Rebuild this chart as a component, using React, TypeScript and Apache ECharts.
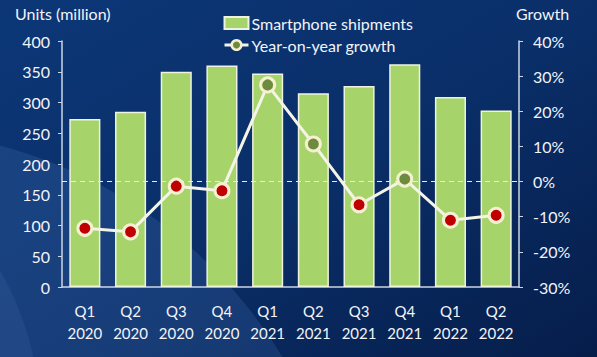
import React, { useEffect, useRef } from "react";
import * as echarts from "echarts";

const categories = ["Q1\n2020", "Q2\n2020", "Q3\n2020", "Q4\n2020", "Q1\n2021", "Q2\n2021", "Q3\n2021", "Q4\n2021", "Q1\n2022", "Q2\n2022"];
const shipments = [273, 285, 350, 360, 347, 315, 327, 362, 309, 287];
const growth = [-13.3, -14.3, -1.3, -2.6, 27.5, 10.7, -6.6, 0.7, -11.0, -9.6];
const leftTicks = { min: 0, max: 400, interval: 50 };
const rightTicks = { min: -30, max: 40, interval: 10 };

const FONT = "Lato, 'Open Sans', sans-serif";
const TXT = "#f2f4f8";

export default function App() {
  const ref = useRef<HTMLDivElement>(null);
  useEffect(() => {
    const chart = echarts.init(ref.current!, null, { renderer: "svg" });
    chart.setOption({
      animation: false,
      backgroundColor: new echarts.graphic.LinearGradient(0, 0, 1, 1, [
        { offset: 0, color: "#0c3777" },
        { offset: 0.5, color: "#0a2f69" },
        { offset: 1, color: "#061d4a" },
      ]),
      graphic: [
        {
          type: "circle",
          silent: true,
          z: -10,
          shape: { cx: -120, cy: 600, r: 470 },
          style: { fill: "rgba(90,140,210,0.18)" },
        },
        {
          type: "circle",
          silent: true,
          z: -10,
          shape: { cx: -260, cy: 420, r: 300 },
          style: { fill: "rgba(120,160,220,0.10)" },
        },
        {
          type: "text",
          left: 15,
          top: 5,
          style: { text: "Units (million)", fill: TXT, font: `16px ${FONT}` },
        },
        {
          type: "text",
          left: 516,
          top: 5,
          style: { text: "Growth", fill: TXT, font: `16px ${FONT}` },
        },
      ],
      legend: {
        orient: "vertical",
        left: 218,
        top: 10,
        itemGap: 6,
        itemWidth: 24,
        itemHeight: 12,
        textStyle: { color: TXT, fontSize: 16, fontFamily: FONT, padding: [0, 0, 0, -2] },
        data: [
          { name: "Smartphone shipments", icon: "rect" },
          {
            name: "Year-on-year growth",
            itemStyle: { color: "#6e8b3d", borderColor: "#f6f0d2", borderWidth: 2.5 },
            lineStyle: { color: "#f3f3e6", width: 3 },
          },
        ],
      },
      grid: { left: 62, right: 78, top: 41, bottom: 70, containLabel: false },
      xAxis: {
        type: "category",
        data: categories,
        axisLine: { lineStyle: { color: "#cdd6e6", width: 1.5 } },
        axisTick: { show: false },
        axisLabel: { color: TXT, fontSize: 15, fontFamily: FONT, lineHeight: 22, margin: 13, interval: 0 },
      },
      yAxis: [
        {
          type: "value",
          min: leftTicks.min,
          max: leftTicks.max,
          interval: leftTicks.interval,
          splitLine: { show: false },
          axisLine: { show: true, lineStyle: { color: "#cdd6e6", width: 1.5 } },
          axisTick: { show: true, length: 4, lineStyle: { color: "#cdd6e6" } },
          axisLabel: { color: TXT, fontSize: 16, fontFamily: FONT, margin: 12 },
        },
        {
          type: "value",
          min: rightTicks.min,
          max: rightTicks.max,
          interval: rightTicks.interval,
          splitLine: { show: false },
          axisLine: { show: true, lineStyle: { color: "#cdd6e6", width: 1.5 } },
          axisTick: { show: true, length: 4, lineStyle: { color: "#cdd6e6" } },
          axisLabel: { color: TXT, fontSize: 16, fontFamily: FONT, margin: 14, formatter: "{value}%" },
        },
      ],
      series: [
        {
          name: "Smartphone shipments",
          type: "bar",
          data: shipments,
          barWidth: "68%",
          itemStyle: { color: "#a6d46b", borderColor: "#eef3df", borderWidth: 1.5 },
        },
        {
          name: "Year-on-year growth",
          type: "line",
          yAxisIndex: 1,
          data: growth,
          symbol: "circle",
          symbolSize: 14,
          lineStyle: { color: "#f3f3e6", width: 3 },
          itemStyle: {
            color: (p: any) => (p.value < 0 ? "#c00000" : "#6e8b3d"),
            borderColor: "#f6f0d2",
            borderWidth: 3,
          },
          markLine: {
            silent: true,
            symbol: "none",
            label: { show: false },
            lineStyle: { color: "#e8ecf2", type: [5, 4], width: 1 },
            data: [{ yAxis: 0 }],
          },
          z: 5,
        },
      ],
    });
    return () => chart.dispose();
  }, []);
  return <div ref={ref} style={{ width: 597, height: 357, position: "absolute", left: 0, top: 0 }} />;
}
